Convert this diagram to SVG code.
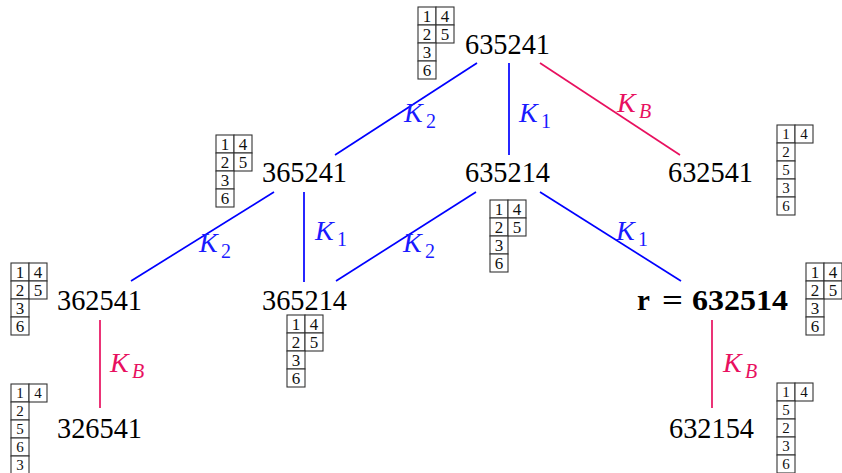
<svg xmlns="http://www.w3.org/2000/svg" width="842" height="473" viewBox="0 0 842 473">
<style>
.num{font-family:"Liberation Serif",serif;font-size:29px;fill:#000}
.bold{font-weight:bold}
.cell{fill:#fff;stroke:#333;stroke-width:1.1}
.d{font-family:"Liberation Serif",serif;font-size:17px;fill:#111;text-anchor:middle}
.d5{font-size:15px}
.blue{stroke:#0000ff;stroke-width:1.7;fill:none}
.pink{stroke:#e8105f;stroke-width:1.7;fill:none}
.lb{font-family:"Liberation Serif",serif;font-style:italic;font-size:28px;fill:#1a1aff}
.lp{font-family:"Liberation Serif",serif;font-style:italic;font-size:28px;fill:#e8105f}
.sub{font-size:20px}
.up{font-style:normal}
</style>
<rect width="842" height="473" fill="#fff"/>
<g id="connectors">
<line class="blue" x1="477" y1="63" x2="335" y2="155"/>
<line class="blue" x1="509" y1="63" x2="509" y2="155"/>
<line class="pink" x1="540" y1="63" x2="680" y2="155"/>
<line class="blue" x1="274" y1="192" x2="131" y2="281"/>
<line class="blue" x1="304" y1="192" x2="304" y2="282"/>
<line class="blue" x1="476" y1="192" x2="336" y2="281"/>
<line class="blue" x1="540" y1="192" x2="681" y2="281"/>
<line class="pink" x1="100" y1="320" x2="100" y2="408"/>
<line class="pink" x1="712" y1="320" x2="712" y2="408"/>
<text class="lb" x="404" y="122">K<tspan class="sub up" x="426" y="128">2</tspan></text>
<text class="lb" x="519" y="122">K<tspan class="sub up" x="541" y="128">1</tspan></text>
<text class="lp" x="617" y="112">K<tspan class="sub" x="639" y="118">B</tspan></text>
<text class="lb" x="199" y="252">K<tspan class="sub up" x="221" y="258">2</tspan></text>
<text class="lb" x="315" y="240">K<tspan class="sub up" x="337" y="246">1</tspan></text>
<text class="lb" x="403" y="252">K<tspan class="sub up" x="425" y="258">2</tspan></text>
<text class="lb" x="616" y="240">K<tspan class="sub up" x="638" y="246">1</tspan></text>
<text class="lp" x="110" y="372">K<tspan class="sub" x="132" y="378">B</tspan></text>
<text class="lp" x="723" y="372">K<tspan class="sub" x="745" y="378">B</tspan></text>
</g>
<g id="n635241">
<text class="num" x="465" y="54" textLength="85" lengthAdjust="spacingAndGlyphs">635241</text>
<rect class="cell" x="418" y="7" width="18" height="18"/><rect class="cell" x="436" y="7" width="18" height="18"/>
<rect class="cell" x="418" y="25" width="18" height="18"/><rect class="cell" x="436" y="25" width="18" height="18"/>
<rect class="cell" x="418" y="43" width="18" height="18"/><rect class="cell" x="418" y="61" width="18" height="18"/>
<text class="d" x="427" y="22">1</text><text class="d" x="445" y="22">4</text>
<text class="d" x="427" y="40">2</text><text class="d" x="445" y="40">5</text>
<text class="d" x="427" y="58">3</text><text class="d" x="427" y="76">6</text>
</g>
<g id="n365241">
<text class="num" x="262" y="182" textLength="85" lengthAdjust="spacingAndGlyphs">365241</text>
<rect class="cell" x="216" y="135" width="18" height="18"/><rect class="cell" x="234" y="135" width="18" height="18"/>
<rect class="cell" x="216" y="153" width="18" height="18"/><rect class="cell" x="234" y="153" width="18" height="18"/>
<rect class="cell" x="216" y="171" width="18" height="18"/><rect class="cell" x="216" y="189" width="18" height="18"/>
<text class="d" x="225" y="150">1</text><text class="d" x="243" y="150">4</text>
<text class="d" x="225" y="168">2</text><text class="d" x="243" y="168">5</text>
<text class="d" x="225" y="186">3</text><text class="d" x="225" y="204">6</text>
</g>
<g id="n635214">
<text class="num" x="465" y="182" textLength="85" lengthAdjust="spacingAndGlyphs">635214</text>
<rect class="cell" x="490" y="200" width="18" height="18"/><rect class="cell" x="508" y="200" width="18" height="18"/>
<rect class="cell" x="490" y="218" width="18" height="18"/><rect class="cell" x="508" y="218" width="18" height="18"/>
<rect class="cell" x="490" y="236" width="18" height="18"/><rect class="cell" x="490" y="254" width="18" height="18"/>
<text class="d" x="499" y="215">1</text><text class="d" x="517" y="215">4</text>
<text class="d" x="499" y="233">2</text><text class="d" x="517" y="233">5</text>
<text class="d" x="499" y="251">3</text><text class="d" x="499" y="269">6</text>
</g>
<g id="n632541">
<text class="num" x="668" y="182" textLength="85" lengthAdjust="spacingAndGlyphs">632541</text>
<rect class="cell" x="777" y="125" width="18" height="18"/><rect class="cell" x="795" y="125" width="18" height="18"/>
<rect class="cell" x="777" y="143" width="18" height="18"/><rect class="cell" x="777" y="161" width="18" height="18"/>
<rect class="cell" x="777" y="179" width="18" height="18"/><rect class="cell" x="777" y="197" width="18" height="18"/>
<text class="d d5" x="786" y="139">1</text><text class="d d5" x="804" y="139">4</text>
<text class="d d5" x="786" y="157">2</text><text class="d d5" x="786" y="175">5</text>
<text class="d d5" x="786" y="193">3</text><text class="d d5" x="786" y="211">6</text>
</g>
<g id="n362541">
<text class="num" x="57" y="310" textLength="85" lengthAdjust="spacingAndGlyphs">362541</text>
<rect class="cell" x="11" y="263" width="18" height="18"/><rect class="cell" x="29" y="263" width="18" height="18"/>
<rect class="cell" x="11" y="281" width="18" height="18"/><rect class="cell" x="29" y="281" width="18" height="18"/>
<rect class="cell" x="11" y="299" width="18" height="18"/><rect class="cell" x="11" y="317" width="18" height="18"/>
<text class="d" x="20" y="278">1</text><text class="d" x="38" y="278">4</text>
<text class="d" x="20" y="296">2</text><text class="d" x="38" y="296">5</text>
<text class="d" x="20" y="314">3</text><text class="d" x="20" y="332">6</text>
</g>
<g id="n365214">
<text class="num" x="262" y="310" textLength="85" lengthAdjust="spacingAndGlyphs">365214</text>
<rect class="cell" x="287" y="315" width="18" height="18"/><rect class="cell" x="305" y="315" width="18" height="18"/>
<rect class="cell" x="287" y="333" width="18" height="18"/><rect class="cell" x="305" y="333" width="18" height="18"/>
<rect class="cell" x="287" y="351" width="18" height="18"/><rect class="cell" x="287" y="369" width="18" height="18"/>
<text class="d" x="296" y="330">1</text><text class="d" x="314" y="330">4</text>
<text class="d" x="296" y="348">2</text><text class="d" x="314" y="348">5</text>
<text class="d" x="296" y="366">3</text><text class="d" x="296" y="384">6</text>
</g>
<g id="n632514">
<text class="num bold" y="310"><tspan x="637">r</tspan><tspan x="662" textLength="21" lengthAdjust="spacingAndGlyphs">=</tspan><tspan x="692" textLength="96" lengthAdjust="spacingAndGlyphs">632514</tspan></text>
<rect class="cell" x="806" y="263" width="18" height="18"/><rect class="cell" x="824" y="263" width="18" height="18"/>
<rect class="cell" x="806" y="281" width="18" height="18"/><rect class="cell" x="824" y="281" width="18" height="18"/>
<rect class="cell" x="806" y="299" width="18" height="18"/><rect class="cell" x="806" y="317" width="18" height="18"/>
<text class="d" x="815" y="278">1</text><text class="d" x="833" y="278">4</text>
<text class="d" x="815" y="296">2</text><text class="d" x="833" y="296">5</text>
<text class="d" x="815" y="314">3</text><text class="d" x="815" y="332">6</text>
</g>
<g id="n326541">
<text class="num" x="57" y="438" textLength="85" lengthAdjust="spacingAndGlyphs">326541</text>
<rect class="cell" x="11" y="384" width="18" height="18"/><rect class="cell" x="29" y="384" width="18" height="18"/>
<rect class="cell" x="11" y="402" width="18" height="18"/><rect class="cell" x="11" y="420" width="18" height="18"/>
<rect class="cell" x="11" y="438" width="18" height="18"/><rect class="cell" x="11" y="456" width="18" height="18"/>
<text class="d d5" x="20" y="398">1</text><text class="d d5" x="38" y="398">4</text>
<text class="d d5" x="20" y="416">2</text><text class="d d5" x="20" y="434">5</text>
<text class="d d5" x="20" y="452">6</text><text class="d d5" x="20" y="470">3</text>
</g>
<g id="n632154">
<text class="num" x="669" y="438" textLength="85" lengthAdjust="spacingAndGlyphs">632154</text>
<rect class="cell" x="777" y="383" width="18" height="18"/><rect class="cell" x="795" y="383" width="18" height="18"/>
<rect class="cell" x="777" y="401" width="18" height="18"/><rect class="cell" x="777" y="419" width="18" height="18"/>
<rect class="cell" x="777" y="437" width="18" height="18"/><rect class="cell" x="777" y="455" width="18" height="18"/>
<text class="d d5" x="786" y="397">1</text><text class="d d5" x="804" y="397">4</text>
<text class="d d5" x="786" y="415">5</text><text class="d d5" x="786" y="433">2</text>
<text class="d d5" x="786" y="451">3</text><text class="d d5" x="786" y="469">6</text>
</g>
</svg>
